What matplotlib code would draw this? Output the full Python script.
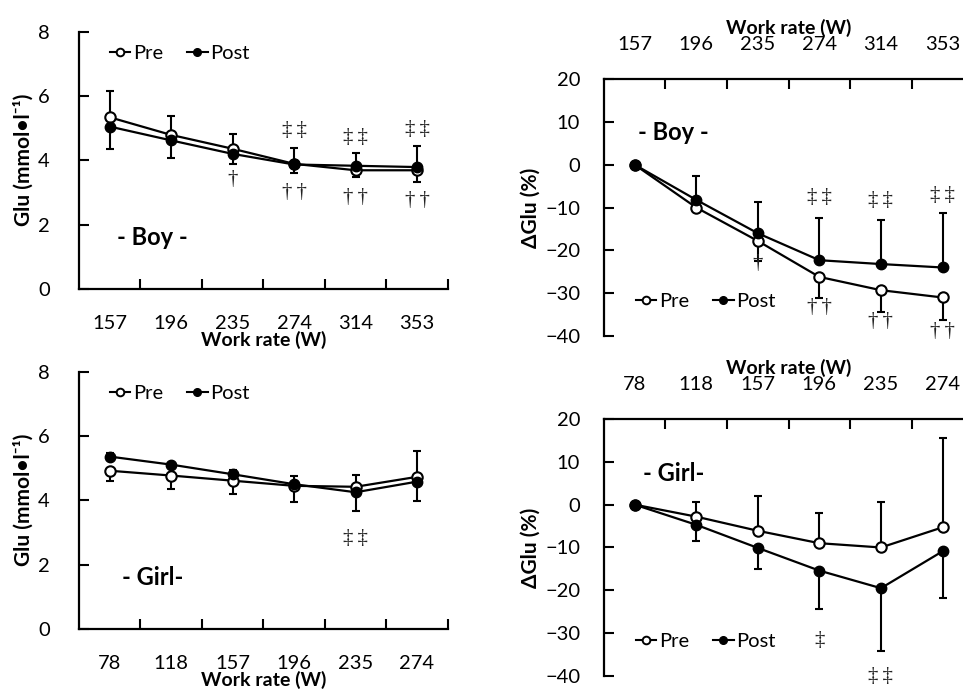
import matplotlib.pyplot as plt
from matplotlib.lines import Line2D
import numpy as np

plt.rcParams['font.family'] = ['Lato', 'DejaVu Sans']

# work rates (W)
boy_w = ['157', '196', '235', '274', '314', '353']
girl_w = ['78', '118', '157', '196', '235', '274']

# Glu (mmol/l), boy
boy_glu_pre = [5.34, 4.79, 4.36, 3.89, 3.69, 3.69]
boy_glu_post = [5.05, 4.62, 4.20, 3.87, 3.83, 3.79]
boy_glu_pre_up = [0.81, 0.58, 0.47, 0.49, 0, 0]
boy_glu_pre_dn = [0, 0, 0, 0, 0.21, 0.37]
boy_glu_post_up = [0, 0, 0, 0, 0.39, 0.65]
boy_glu_post_dn = [0.69, 0.54, 0.33, 0.26, 0, 0]

# Glu (mmol/l), girl
girl_glu_pre = [4.92, 4.77, 4.61, 4.45, 4.42, 4.73]
girl_glu_post = [5.36, 5.11, 4.81, 4.50, 4.25, 4.58]
girl_glu_pre_up = [0, 0, 0, 0, 0.36, 0.81]
girl_glu_pre_dn = [0.31, 0.42, 0.42, 0.49, 0, 0]
girl_glu_post_up = [0.10, 0.05, 0.13, 0.26, 0, 0]
girl_glu_post_dn = [0, 0, 0, 0, 0.58, 0.59]

# delta Glu (%), boy
boy_d_pre = [0, -10.0, -17.8, -26.2, -29.3, -31.0]
boy_d_post = [0, -8.2, -16.0, -22.3, -23.2, -24.0]
boy_d_pre_dn = [0, 0.9, 4.8, 4.9, 5.2, 5.3]
boy_d_post_up = [0, 5.6, 7.4, 9.9, 10.3, 12.7]

# delta Glu (%), girl
girl_d_pre = [0, -2.8, -6.1, -9.0, -10.0, -5.3]
girl_d_post = [0, -4.7, -10.1, -15.4, -19.5, -10.9]
girl_d_pre_up = [0, 3.5, 8.2, 7.0, 10.7, 20.9]
girl_d_post_dn = [0, 3.7, 5.0, 9.0, 14.6, 10.9]

# significance marks (index, y, symbol)
dd = '‡\u2009‡'
tt = '†\u2009†'
boy_glu_marks = [(3, 4.94, dd), (4, 4.72, dd), (5, 4.97, dd),
                 (2, 3.39, '†'), (3, 3.01, tt), (4, 2.85, tt), (5, 2.76, tt)]
girl_glu_marks = [(4, 2.8, dd)]
boy_d_marks = [(3, -7.7, dd), (4, -8.4, dd), (5, -7.2, dd),
               (2, -23.0, '†'), (3, -33.3, tt), (4, -36.5, tt), (5, -39.0, tt)]
girl_d_marks = [(3, -31.8, '‡'), (4, -40.2, dd)]

fig = plt.figure(figsize=(9.63, 6.91), dpi=100)


def panel(rect, labels, pre, post, pre_err, post_err, marks, title, title_xy,
          ylim, yticks, ylabel, top, leg_xy, ypad):
    ax = fig.add_axes(rect)
    x = np.arange(len(labels))
    ax.errorbar(x, pre, yerr=pre_err, color='black', lw=1.6, marker='o', ms=7.5,
                mfc='white', mec='black', mew=1.5, ecolor='black', elinewidth=1.5,
                capsize=3, capthick=1.5, zorder=3)
    ax.errorbar(x, post, yerr=post_err, color='black', lw=1.6, marker='o', ms=7.5,
                mfc='black', mec='black', ecolor='black', elinewidth=1.5,
                capsize=3, capthick=1.5, zorder=4)
    for i, yv, s in marks:
        ax.text(i, yv, s, ha='center', va='center', fontsize=15, color='#222222',
                family=['Liberation Serif', 'DejaVu Serif'], clip_on=False)
    ax.set_xlim(-0.5, len(labels) - 0.5)
    ax.set_ylim(*ylim)
    ax.set_yticks(yticks)
    ax.set_xticks(x)
    ax.set_xticklabels(labels)
    ax.set_xticks(np.arange(len(labels)) + 0.5, minor=True)
    ax.tick_params(axis='x', which='major', length=0, labelsize=14.5, pad=19)
    ax.tick_params(axis='x', which='minor', direction='in', length=7, width=1.5)
    ax.tick_params(axis='y', direction='in', length=7, width=1.5, labelsize=14.5, pad=ypad)
    for s in ax.spines.values():
        s.set_linewidth(1.6)
    ax.spines['right'].set_visible(False)
    if top:
        ax.spines['bottom'].set_visible(False)
        ax.xaxis.tick_top()
        ax.xaxis.set_label_position('top')
        ax.tick_params(axis='x', which='both', top=True, bottom=False)
        ax.set_xlabel('Work rate (W)', fontsize=14, fontweight='bold', labelpad=1)
    else:
        ax.spines['top'].set_visible(False)
        ax.set_xlabel('Work rate (W)', fontsize=14, fontweight='bold', labelpad=-1)
    ax.set_ylabel(ylabel, fontsize=15, fontweight='bold', labelpad=3)
    ax.text(title_xy[0], title_xy[1], title, transform=ax.transAxes, fontsize=17,
            fontweight='bold', ha='left', va='center')
    handles = [Line2D([], [], color='black', lw=1.5, marker='o', ms=5.5,
                      mfc='white', mec='black', mew=1.4),
               Line2D([], [], color='black', lw=1.5, marker='o', ms=5.5,
                      mfc='black', mec='black')]
    ax.legend(handles, ['Pre', 'Post'], loc='center left', bbox_to_anchor=leg_xy,
              ncol=2, frameon=False, handlelength=1.0, handletextpad=0.15,
              columnspacing=1.2, borderaxespad=0, borderpad=0, fontsize=14.5)
    return ax


glu_label = 'Glu (mmol•l⁻¹)'
d_label = 'ΔGlu (%)'

panel([0.082, 0.582, 0.383, 0.372], boy_w, boy_glu_pre, boy_glu_post,
      [boy_glu_pre_dn, boy_glu_pre_up], [boy_glu_post_dn, boy_glu_post_up],
      boy_glu_marks, '- Boy -', (0.103, 0.20), (0, 8), [0, 2, 4, 6, 8],
      glu_label, False, (0.084, 0.917), 21)

panel([0.082, 0.090, 0.383, 0.372], girl_w, girl_glu_pre, girl_glu_post,
      [girl_glu_pre_dn, girl_glu_pre_up], [girl_glu_post_dn, girl_glu_post_up],
      girl_glu_marks, '- Girl-', (0.116, 0.20), (0, 8), [0, 2, 4, 6, 8],
      glu_label, False, (0.084, 0.917), 21)

zeros = [0] * 6
panel([0.627, 0.5137, 0.3837, 0.372], boy_w, boy_d_pre, boy_d_post,
      [boy_d_pre_dn, zeros], [zeros, boy_d_post_up],
      boy_d_marks, '- Boy -', (0.092, 0.79), (-40, 20), list(range(-40, 21, 10)),
      d_label, True, (0.087, 0.133), 17)

panel([0.627, 0.0217, 0.3837, 0.372], girl_w, girl_d_pre, girl_d_post,
      [zeros, girl_d_pre_up], [girl_d_post_dn, zeros],
      girl_d_marks, '- Girl-', (0.105, 0.789), (-40, 20), list(range(-40, 21, 10)),
      d_label, True, (0.087, 0.133), 17)

fig.savefig('out.png', dpi=100)
